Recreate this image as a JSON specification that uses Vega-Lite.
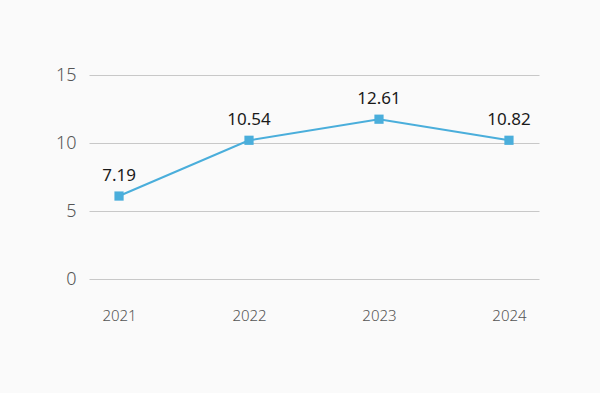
{
  "$schema": "https://vega.github.io/schema/vega-lite/v6.json",
  "width": 450,
  "height": 204,
  "autosize": {"type": "none"},
  "padding": {"left": 89, "top": 75, "right": 61, "bottom": 114},
  "background": "#fafafa",
  "config": {"view": {"stroke": null}, "font": "Noto Sans"},
  "data": {
    "values": [
      {"year": "2021", "value": 6.1, "label": "7.19"},
      {"year": "2022", "value": 10.2, "label": "10.54"},
      {"year": "2023", "value": 11.75, "label": "12.61"},
      {"year": "2024", "value": 10.2, "label": "10.82"}
    ]
  },
  "encoding": {
    "x": {
      "field": "year",
      "type": "ordinal",
      "scale": {"type": "point", "padding": 0.231},
      "axis": {
        "title": null,
        "labelAngle": 0,
        "domain": false,
        "ticks": false,
        "labelPadding": 29,
        "labelFontSize": 15,
        "labelFontWeight": 300,
        "labelColor": "#555555",
        "labelFont": "Noto Sans"
      }
    },
    "y": {
      "field": "value",
      "type": "quantitative",
      "scale": {"domain": [0, 15]},
      "axis": {
        "title": null,
        "values": [0, 5, 10, 15],
        "domain": false,
        "ticks": false,
        "labelPadding": 13,
        "labelFontSize": 18,
        "labelFontWeight": 300,
        "labelColor": "#555555",
        "labelFont": "Noto Sans",
        "gridColor": "#c8c8c8",
        "gridWidth": 1
      }
    }
  },
  "layer": [
    {"mark": {"type": "line", "color": "#4aaedb", "strokeWidth": 2}},
    {"mark": {"type": "square", "color": "#4aaedb", "opacity": 1, "filled": true, "size": 85}},
    {
      "mark": {"type": "text", "dy": -20, "fontSize": 17, "fontWeight": 400, "color": "#1a1a1a", "font": "Noto Sans"},
      "encoding": {"text": {"field": "label"}}
    }
  ]
}
